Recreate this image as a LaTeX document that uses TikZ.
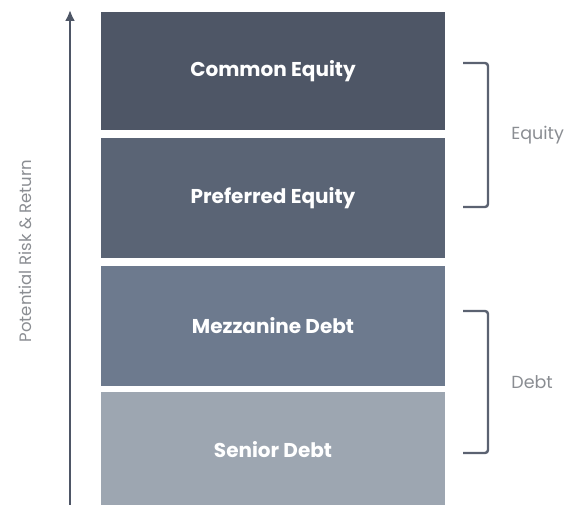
\documentclass[tikz,border=0pt]{standalone}
\usepackage{fontspec}
\setmainfont{Poppins}
\usepackage{tikz}
\usetikzlibrary{arrows.meta, positioning}
\definecolor{tierA}{HTML}{4E5666}
\definecolor{tierB}{HTML}{5A6475}
\definecolor{tierC}{HTML}{6D7A8E}
\definecolor{tierD}{HTML}{9DA6B1}
\definecolor{axisgray}{HTML}{4E5666}
\definecolor{bracegray}{HTML}{5B6271}
\definecolor{labelgray}{HTML}{8A8D92}

\begin{document}
\begin{tikzpicture}[x=1pt, y=-1pt, thick, >=latex]
		% Styles
		\tikzstyle{tier}=[minimum width=344pt, minimum height=120pt, inner sep=0pt, text=white, font=\fontsize{20}{20}\selectfont\bfseries]
		\tikzstyle{brace}=[draw=bracegray, line width=2.4pt, rounded corners=3pt]
		\tikzstyle{sidelabel}=[text=labelgray, inner sep=0pt, font=\fontsize{17.5}{17.5}\selectfont]
		
		\useasboundingbox (0,0) rectangle (574,505);
		
		%--- Les tranches du capital ---
		\node[tier, fill=tierA, minimum height=118pt] (CE) at (273,71) {Common Equity};
		\node[tier, fill=tierB, below=7pt of CE] (PE) {Preferred Equity};
		\node[tier, fill=tierC, below=7pt of PE] (MD) {Mezzanine Debt};
		\node[tier, fill=tierD, below=6pt of MD, minimum height=115pt] (SD) {Senior Debt};
		
		%--- Axe risque / rendement ---
		\coordinate (A0) at (70,505);
		\coordinate (A1) at (70,10);
		\draw[-{Latex[length=11pt, width=10pt]}, line width=2.2pt, draw=axisgray, fill=axisgray] (A0) -- (A1);
		\node[sidelabel, rotate=90, font=\fontsize{16.5}{16.5}\selectfont] (RR) at (25,251) {Potential Risk \& Return};
		
		%--- Accolades Equity / Debt ---
		\coordinate (EQt) at (463,63);
		\coordinate (EQb) at (463,207);
		\coordinate (DTt) at (463,311);
		\coordinate (DTb) at (463,453);
		\draw[brace] (EQt) -| ([xshift=25pt]EQb) -- (EQb);
		\draw[brace] (DTt) -| ([xshift=25pt]DTb) -- (DTb);
		\node[sidelabel, anchor=west] (EQ) at (511,135) {Equity};
		\node[sidelabel, anchor=west] (DT) at (511,382) {Debt};
	\end{tikzpicture}
\end{document}
